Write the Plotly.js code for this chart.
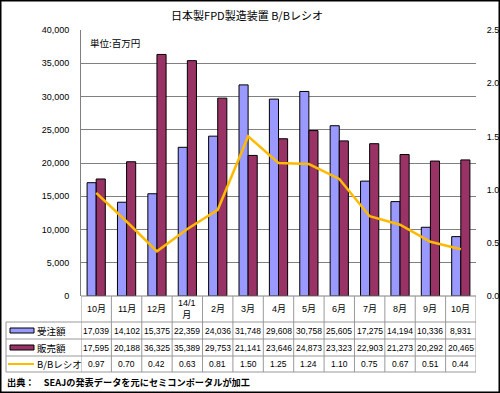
<!DOCTYPE html>
<html>
<head>
<meta charset="utf-8">
<script src="https://cdn.plot.ly/plotly-3.0.1.min.js"></script>
<style>
html,body{margin:0;padding:0;background:#fff;}
#chart{width:500px;height:393px;}
</style>
</head>
<body>
<div id="chart"></div>
<script>
// ---- data ----
const categories = ['10月','11月','12月','14/1<br>月','2月','3月','4月','5月','6月','7月','8月','9月','10月'];
const orders = [17039,14102,15375,22359,24036,31748,29608,30758,25605,17275,14194,10336,8931];
const sales = [17595,20188,36325,35389,29753,21141,23646,24873,23323,22903,21273,20292,20465];
const bbRatio = [0.97,0.70,0.42,0.63,0.81,1.50,1.25,1.24,1.10,0.75,0.67,0.51,0.44];
const seriesNames = ['受注額','販売額','B/Bレシオ'];
const leftTicks = [0,5000,10000,15000,20000,25000,30000,35000,40000];
const rightTicks = [0,0.5,1.0,1.5,2.0,2.5];

const FONT = 'Liberation Sans, Arial, Noto Sans CJK JP, sans-serif';
const JFONT = 'Noto Sans CJK JP, sans-serif';
const colOrders = '#9999FF', colSales = '#993366', colLine = '#FFBA00';
const xs = categories.map((c,i)=>i);

// layout geometry (pixels)
const L = 81, R = 476, T = 30, B = 296, W = 500, H = 393;
const px2x = p => (p - L) / (R - L);
const py2y = p => (B - p) / (B - T);

const traces = [
  {type:'bar', x:xs, y:orders, name:seriesNames[0], marker:{color:colOrders, line:{color:'#000', width:1}}, yaxis:'y'},
  {type:'bar', x:xs, y:sales, name:seriesNames[1], marker:{color:colSales, line:{color:'#000', width:1}}, yaxis:'y'},
  {type:'scatter', mode:'lines', x:xs, y:bbRatio, name:seriesNames[2], line:{color:colLine, width:2.5}, yaxis:'y2'}
];

const shapes = [];
const annotations = [];
const tableColor = '#999';
const rowB = [296, 322, 339, 356, 372];
const rowMid = [309, 330.5, 347.5, 364];
const tableLeft = 6;
shapes.push({type:'line', xref:'paper', yref:'paper', x0:0, x1:1, y0:py2y(rowB[0]), y1:py2y(rowB[0]), line:{color:'#808080', width:1}});
for (let r=1; r<rowB.length; r++) {
  shapes.push({type:'line', xref:'paper', yref:'paper', x0:px2x(tableLeft), x1:1, y0:py2y(rowB[r]), y1:py2y(rowB[r]), line:{color:tableColor, width:1}});
}
for (let i=0; i<=categories.length; i++) {
  shapes.push({type:'line', xref:'x', yref:'paper', x0:i-0.5, x1:i-0.5, y0:py2y(rowB[0]), y1:py2y(rowB[4]), line:{color:tableColor, width:1}});
}
shapes.push({type:'line', xref:'paper', yref:'paper', x0:px2x(tableLeft), x1:px2x(tableLeft), y0:py2y(rowB[1]), y1:py2y(rowB[4]), line:{color:tableColor, width:1}});
// legend keys
shapes.push({type:'rect', xref:'paper', yref:'paper', x0:px2x(10), x1:px2x(34), y0:py2y(rowMid[1]-2.5), y1:py2y(rowMid[1]+2.5), fillcolor:colOrders, line:{color:'#000', width:1}});
shapes.push({type:'rect', xref:'paper', yref:'paper', x0:px2x(10), x1:px2x(34), y0:py2y(rowMid[2]-2.5), y1:py2y(rowMid[2]+2.5), fillcolor:colSales, line:{color:'#000', width:1}});
shapes.push({type:'line', xref:'paper', yref:'paper', x0:px2x(8), x1:px2x(34), y0:py2y(rowMid[3]), y1:py2y(rowMid[3]), line:{color:colLine, width:2}});
// outer frame
shapes.push({type:'rect', xref:'paper', yref:'paper', x0:px2x(0.75), x1:px2x(499.25), y0:py2y(392.25), y1:py2y(0.75), line:{color:'#000', width:1.5}, layer:'below'});

seriesNames.forEach((n,k)=>{
  annotations.push({xref:'paper', yref:'paper', x:px2x(35), y:py2y(rowMid[k+1]), text:n, showarrow:false, xanchor:'left', yanchor:'middle', font:{family:JFONT, size:9.5, color:'#000'}});
});
categories.forEach((c,i)=>{
  annotations.push({xref:'x', yref:'paper', x:i, y:py2y(rowMid[0]), text:c, showarrow:false, xanchor:'center', yanchor:'middle', font:{family:FONT, size:9, color:'#000'}});
  annotations.push({xref:'x', yref:'paper', x:i, y:py2y(rowMid[1]), text:orders[i].toLocaleString('en-US'), showarrow:false, xanchor:'center', yanchor:'middle', font:{family:FONT, size:8.5, color:'#000'}});
  annotations.push({xref:'x', yref:'paper', x:i, y:py2y(rowMid[2]), text:sales[i].toLocaleString('en-US'), showarrow:false, xanchor:'center', yanchor:'middle', font:{family:FONT, size:8.5, color:'#000'}});
  annotations.push({xref:'x', yref:'paper', x:i, y:py2y(rowMid[3]), text:bbRatio[i].toFixed(2), showarrow:false, xanchor:'center', yanchor:'middle', font:{family:FONT, size:8.5, color:'#000'}});
});
annotations.push({xref:'paper', yref:'paper', x:px2x(88), y:py2y(43), text:'単位:百万円', showarrow:false, xanchor:'left', yanchor:'middle', font:{family:JFONT, size:9.5, color:'#000'}});
annotations.push({xref:'paper', yref:'paper', x:px2x(5), y:py2y(382), text:'<b>出典：　SEAJの発表データを元にセミコンポータルが加工</b>', showarrow:false, xanchor:'left', yanchor:'middle', font:{family:JFONT, size:9.2, color:'#000'}});

const layout = {
  width:W, height:H,
  margin:{l:L, r:W-R, t:T, b:H-B, pad:0},
  paper_bgcolor:'#fff', plot_bgcolor:'#fff',
  showlegend:false,
  barmode:'group', bargap:0.4, bargroupgap:0,
  title:{text:'日本製FPD製造装置 B/Bレシオ', x:0.494, xanchor:'center', y:1-16/H, yanchor:'middle', font:{family:JFONT, size:11, color:'#000'}},
  xaxis:{range:[-0.5, categories.length-0.5], showticklabels:false, showgrid:false, zeroline:false, showline:false, ticks:'', fixedrange:true},
  yaxis:{range:[0,40000], tickvals:leftTicks, ticktext:leftTicks.map(v=>v.toLocaleString('en-US')), showgrid:true, gridcolor:'#808080', gridwidth:1, zeroline:false, showline:true, linecolor:'#808080', linewidth:1, ticks:'outside', ticklen:9, tickcolor:'rgba(0,0,0,0)', tickfont:{family:FONT, size:9, color:'#000'}},
  yaxis2:{range:[0,2.5], overlaying:'y', side:'right', tickvals:rightTicks, ticktext:rightTicks.map(v=>v.toFixed(1)), showgrid:false, zeroline:false, showline:false, ticks:'outside', ticklen:8, tickcolor:'rgba(0,0,0,0)', tickfont:{family:FONT, size:9, color:'#000'}},
  shapes:shapes,
  annotations:annotations
};

Plotly.newPlot('chart', traces, layout, {staticPlot:true, displayModeBar:false});
</script>
</body>
</html>
